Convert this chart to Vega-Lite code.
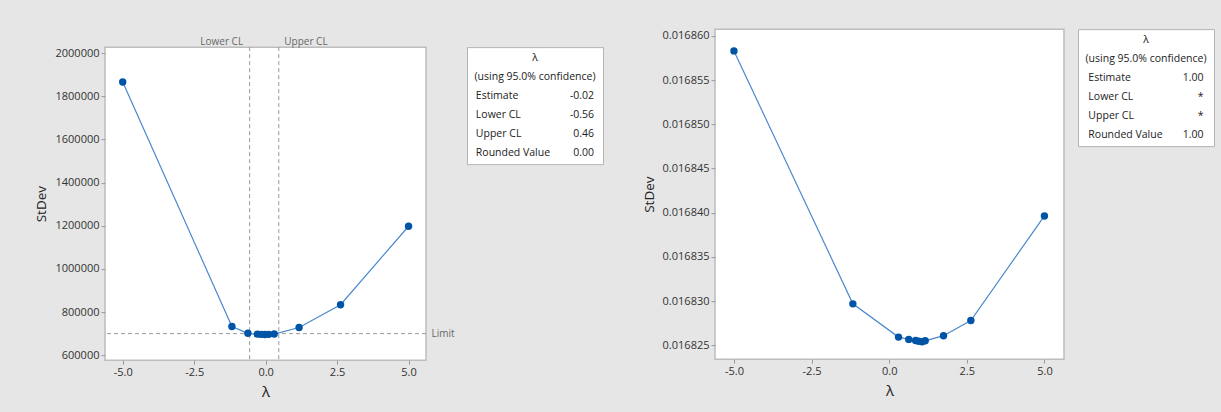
{
  "$schema": "https://vega.github.io/schema/vega-lite/v6.json",
  "background": "#e6e6e6",
  "padding": {"left": 34, "top": 28, "right": 8, "bottom": 0},
  "spacing": 37,
  "center": true,
  "config": {
    "font": "Open Sans",
    "view": {"fill": "white", "stroke": "#bdbdbd", "strokeWidth": 1.5},
    "axis": {
      "grid": false,
      "domain": false,
      "tickColor": "#9a9a9a",
      "tickSize": 4,
      "labelPadding": 2,
      "labelFont": "Open Sans",
      "labelFontSize": 11,
      "labelColor": "#333333",
      "labelFlush": false,
      "titleFont": "Open Sans",
      "titleFontSize": 13,
      "titleFontWeight": "normal",
      "titleColor": "#222222"
    }
  },
  "hconcat": [
    {
      "bounds": "flush",
      "spacing": 41,
      "hconcat": [
        {
          "width": 321,
          "height": 313,
          "resolve": {"axis": {"x": "independent", "y": "independent"}},
          "layer": [
            {
              "data": {"values": [{"bound": "Lower CL", "lambda": -0.56}, {"bound": "Upper CL", "lambda": 0.46}]},
              "mark": {"type": "rule", "color": "#9a9a9a", "strokeDash": [4, 3], "strokeWidth": 1},
              "encoding": {
                "x": {
                  "field": "lambda", "type": "quantitative",
                  "scale": {"domain": [-5.62, 5.61], "nice": false, "zero": false},
                  "axis": {
                    "orient": "top", "values": [-0.56, 0.46], "title": null,
                    "labelExpr": "datum.value < 0 ? 'Lower CL' : 'Upper CL'",
                    "ticks": true, "tickSize": 18, "tickOpacity": 0,
                    "labelPadding": -17, "labelFontSize": 10, "labelColor": "#666666",
                    "labelAlign": {"condition": {"test": "datum.value < 0", "value": "right"}, "value": "left"},
                    "labelOffset": {"condition": {"test": "datum.value < 0", "value": -7}, "value": 5},
                    "labelOverlap": false, "labelBound": false
                  }
                }
              }
            },
            {
              "data": {"values": [{"limit": 700000}]},
              "mark": {"type": "rule", "color": "#9a9a9a", "strokeDash": [4, 3], "strokeWidth": 1},
              "encoding": {
                "y": {
                  "field": "limit", "type": "quantitative",
                  "scale": {"domain": [577000, 2029000], "nice": false, "zero": false},
                  "axis": {
                    "orient": "right", "values": [700000], "title": null,
                    "labelExpr": "'Limit'", "ticks": false, "labelPadding": 5,
                    "labelFontSize": 10, "labelColor": "#666666"
                  }
                }
              }
            },
            {
              "data": {"values": [
                {"lambda": -5, "stdev": 1867000},
                {"lambda": -1.18, "stdev": 733000},
                {"lambda": -0.62, "stdev": 701500},
                {"lambda": -0.29, "stdev": 697500},
                {"lambda": -0.15, "stdev": 696500},
                {"lambda": -0.02, "stdev": 696000},
                {"lambda": 0.11, "stdev": 696500},
                {"lambda": 0.30, "stdev": 698000},
                {"lambda": 1.17, "stdev": 728500},
                {"lambda": 2.62, "stdev": 834000},
                {"lambda": 5, "stdev": 1198000}
              ]},
              "mark": {"type": "line", "color": "#4a88cc", "strokeWidth": 1.2,
                       "point": {"filled": true, "color": "#0054a6", "size": 55, "opacity": 1}},
              "encoding": {
                "x": {
                  "field": "lambda", "type": "quantitative", "title": "λ",
                  "scale": {"domain": [-5.62, 5.61], "nice": false, "zero": false},
                  "axis": {
                    "values": [-5, -2.5, 0, 2.5, 5],
                    "labelExpr": "datum.value < 0 ? '-' + format(-datum.value, '.1f') : format(datum.value, '.1f')",
                    "titleFontSize": 15, "titlePadding": 7
                  }
                },
                "y": {
                  "field": "stdev", "type": "quantitative", "title": "StDev",
                  "scale": {"domain": [577000, 2029000], "nice": false, "zero": false},
                  "axis": {
                    "values": [600000, 800000, 1000000, 1200000, 1400000, 1600000, 1800000, 2000000],
                    "format": "d", "titlePadding": 6, "titleFontSize": 13.5
                  }
                }
              }
            }
          ]
        },
        {
          "width": 136,
          "height": 117,
          "view": {"fill": "white", "stroke": "#b4b4b4", "strokeWidth": 1},
          "data": {"values": [
            {"line": 1, "kind": "head", "item": "λ", "value": ""},
            {"line": 2, "kind": "head", "item": "(using 95.0% confidence)", "value": ""},
            {"line": 3, "kind": "row", "item": "Estimate", "value": "-0.02"},
            {"line": 4, "kind": "row", "item": "Lower CL", "value": "-0.56"},
            {"line": 5, "kind": "row", "item": "Upper CL", "value": "0.46"},
            {"line": 6, "kind": "row", "item": "Rounded Value", "value": "0.00"}
          ]},
          "encoding": {
            "y": {"field": "line", "type": "ordinal", "axis": null, "scale": {"type": "point", "padding": 0.6}}
          },
          "layer": [
            {
              "transform": [{"filter": "datum.kind == 'head'"}],
              "mark": {"type": "text", "fontSize": 10.5, "color": "#222222"},
              "encoding": {"text": {"field": "item"}}
            },
            {
              "transform": [{"filter": "datum.kind == 'row'"}],
              "mark": {"type": "text", "fontSize": 10.5, "color": "#222222", "align": "left"},
              "encoding": {
                "text": {"field": "item"},
                "x": {"datum": "label", "type": "nominal", "axis": null,
                      "scale": {"type": "point", "domain": ["label", "value"], "padding": 0.075}}
              }
            },
            {
              "transform": [{"filter": "datum.kind == 'row'"}],
              "mark": {"type": "text", "fontSize": 10.5, "color": "#222222", "align": "right"},
              "encoding": {
                "text": {"field": "value"},
                "x": {"datum": "value", "type": "nominal", "axis": null,
                      "scale": {"type": "point", "domain": ["label", "value"], "padding": 0.075}}
              }
            }
          ]
        }
      ]
    },
    {
      "bounds": "flush",
      "spacing": 14,
      "hconcat": [
        {
          "width": 349,
          "height": 330,
          "resolve": {"axis": {"x": "independent"}},
          "data": {"values": [
            {"lambda": -5, "stdev": 0.0168583},
            {"lambda": -1.17, "stdev": 0.0168297},
            {"lambda": 0.30, "stdev": 0.01682594},
            {"lambda": 0.63, "stdev": 0.01682568},
            {"lambda": 0.85, "stdev": 0.01682556},
            {"lambda": 0.95, "stdev": 0.01682548},
            {"lambda": 1.06, "stdev": 0.01682542},
            {"lambda": 1.16, "stdev": 0.01682552},
            {"lambda": 1.75, "stdev": 0.0168261},
            {"lambda": 2.63, "stdev": 0.01682782},
            {"lambda": 5, "stdev": 0.01683964}
          ]},
          "encoding": {
            "y": {
              "field": "stdev", "type": "quantitative", "title": "StDev",
              "scale": {"domain": [0.01682345, 0.01686076], "nice": false, "zero": false},
              "axis": {
                "values": [0.016825, 0.01683, 0.016835, 0.01684, 0.016845, 0.01685, 0.016855, 0.01686],
                "format": ".6f", "titlePadding": 6, "titleFontSize": 13.5
              }
            }
          },
          "layer": [
            {
              "mark": {"type": "line", "color": "#4a88cc", "strokeWidth": 1.2},
              "encoding": {
                "x": {
                  "field": "lambda", "type": "quantitative", "title": "λ",
                  "scale": {"domain": [-5.61, 5.63], "nice": false, "zero": false},
                  "axis": {
                    "values": [-5, -2.5, 0, 2.5, 5],
                    "labelExpr": "datum.value < 0 ? '-' + format(-datum.value, '.1f') : format(datum.value, '.1f')",
                    "titleFontSize": 15, "titlePadding": 7
                  }
                }
              }
            },
            {
              "mark": {"type": "point", "filled": true, "color": "#0054a6", "size": 55, "opacity": 1},
              "encoding": {
                "x": {
                  "field": "lambda", "type": "quantitative",
                  "scale": {"domain": [-5.61, 5.63], "nice": false, "zero": false},
                  "axis": {
                    "orient": "bottom", "values": [0], "title": null, "labels": false,
                    "domain": false, "ticks": true, "tickSize": 58, "tickOpacity": 0
                  }
                }
              }
            }
          ]
        },
        {
          "width": 136,
          "height": 117,
          "view": {"fill": "white", "stroke": "#b4b4b4", "strokeWidth": 1},
          "data": {"values": [
            {"line": 1, "kind": "head", "item": "λ", "value": ""},
            {"line": 2, "kind": "head", "item": "(using 95.0% confidence)", "value": ""},
            {"line": 3, "kind": "row", "item": "Estimate", "value": "1.00"},
            {"line": 4, "kind": "row", "item": "Lower CL", "value": "*"},
            {"line": 5, "kind": "row", "item": "Upper CL", "value": "*"},
            {"line": 6, "kind": "row", "item": "Rounded Value", "value": "1.00"}
          ]},
          "encoding": {
            "y": {"field": "line", "type": "ordinal", "axis": null, "scale": {"type": "point", "padding": 0.6}}
          },
          "layer": [
            {
              "transform": [{"filter": "datum.kind == 'head'"}],
              "mark": {"type": "text", "fontSize": 10.5, "color": "#222222"},
              "encoding": {"text": {"field": "item"}}
            },
            {
              "transform": [{"filter": "datum.kind == 'row'"}],
              "mark": {"type": "text", "fontSize": 10.5, "color": "#222222", "align": "left"},
              "encoding": {
                "text": {"field": "item"},
                "x": {"datum": "label", "type": "nominal", "axis": null,
                      "scale": {"type": "point", "domain": ["label", "value"], "padding": 0.09}}
              }
            },
            {
              "transform": [{"filter": "datum.kind == 'row'"}],
              "mark": {"type": "text", "fontSize": 10.5, "color": "#222222", "align": "right"},
              "encoding": {
                "text": {"field": "value"},
                "x": {"datum": "value", "type": "nominal", "axis": null,
                      "scale": {"type": "point", "domain": ["label", "value"], "padding": 0.09}}
              }
            }
          ]
        }
      ]
    }
  ]
}
